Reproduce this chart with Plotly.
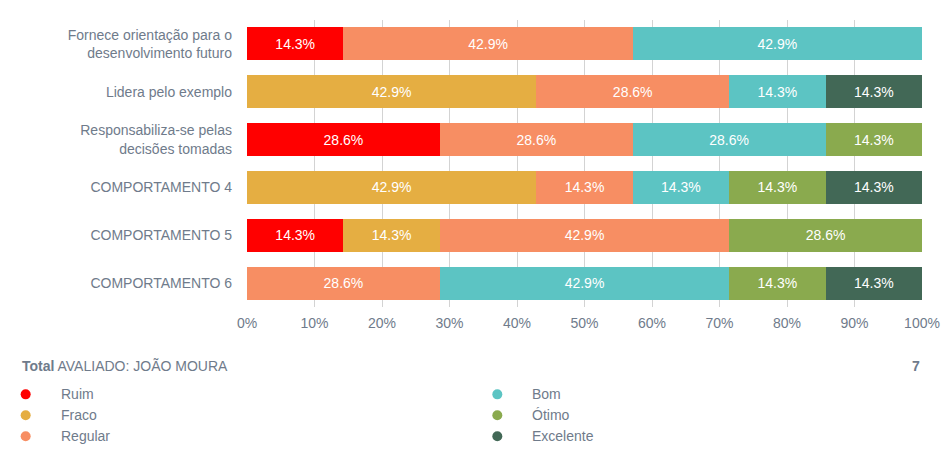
import plotly.graph_objects as go

categories = [
    "Fornece orientação para o<br>desenvolvimento futuro",
    "Lidera pelo exemplo",
    "Responsabiliza-se pelas<br>decisões tomadas",
    "COMPORTAMENTO 4",
    "COMPORTAMENTO 5",
    "COMPORTAMENTO 6",
]
total = 7
ruim = [1, 0, 2, 0, 1, 0]
fraco = [0, 3, 0, 3, 1, 0]
regular = [3, 2, 2, 1, 3, 2]
bom = [3, 1, 2, 1, 0, 3]
otimo = [0, 0, 1, 1, 2, 1]
excelente = [0, 1, 0, 1, 0, 1]

series_names = ["Ruim", "Fraco", "Regular", "Bom", "Ótimo", "Excelente"]
series_counts = [ruim, fraco, regular, bom, otimo, excelente]
colors = ["#FF0000", "#E5AE42", "#F78E63", "#5CC4C3", "#8AAA4E", "#426856"]

W, H = 944, 465
L, R, T, B = 246.5, 22, 20, 157.5
PW, PH = W - L - R, H - T - B

fig = go.Figure()
for name, counts, col in zip(series_names, series_counts, colors):
    pct = [c / total * 100 for c in counts]
    fig.add_trace(go.Bar(
        y=categories, x=pct, name=name, orientation="h",
        marker=dict(color=col, line=dict(width=0)),
        text=[f"{p:.1f}%" if p > 0 else "" for p in pct],
        textposition="inside", insidetextanchor="middle",
        textfont=dict(color="white", size=14, family="Liberation Sans, Arial"),
        showlegend=False, hoverinfo="skip",
    ))

def px2x(px):
    return (px - L) / PW

def py2y(py):
    return (H - B - py) / PH

label_color = "#6F7B8B"
shapes = []
annotations = []
legend_rows = [395, 416, 437]
for i, (name, col) in enumerate(zip(series_names, colors)):
    colx = 25 if i < 3 else 497
    tx = 58 if i < 3 else 530
    yy = legend_rows[i % 3]
    shapes.append(dict(
        type="circle", xref="paper", yref="paper",
        xsizemode="pixel", ysizemode="pixel",
        xanchor=px2x(colx), yanchor=py2y(yy),
        x0=-5, x1=5, y0=-5, y1=5,
        fillcolor=col, line=dict(width=0),
    ))
    annotations.append(dict(
        text=name, xref="paper", yref="paper", x=px2x(tx), y=py2y(yy),
        xanchor="left", yanchor="middle", showarrow=False,
        font=dict(size=14, color=label_color, family="Liberation Sans, Arial"),
    ))

annotations.append(dict(
    text="<b>Total</b> AVALIADO: JOÃO MOURA", xref="paper", yref="paper",
    x=px2x(19), y=py2y(367), xanchor="left", yanchor="middle", showarrow=False,
    font=dict(size=14, color=label_color, family="Liberation Sans, Arial"),
))
annotations.append(dict(
    text="<b>" + str(total) + "</b>", xref="paper", yref="paper",
    x=px2x(922), y=py2y(367), xanchor="right", yanchor="middle", showarrow=False,
    font=dict(size=14, color="#6F7B8B", family="Liberation Sans, Arial"),
))

fig.update_layout(
    width=W, height=H, barmode="stack", bargap=0.31,
    margin=dict(l=L, r=R, t=T, b=B, pad=0, autoexpand=False),
    plot_bgcolor="white", paper_bgcolor="white",
    font=dict(family="Liberation Sans, Arial", size=14, color=label_color),
    shapes=shapes, annotations=annotations,
    xaxis=dict(
        range=[0, 100], tickvals=list(range(0, 101, 10)),
        ticktext=[f"{v}%" for v in range(0, 101, 10)],
        showgrid=True, gridcolor="#D3D3D3", gridwidth=1,
        zeroline=False, showline=False, ticks="",
        tickfont=dict(size=14, color=label_color), ticklabelstandoff=6,
        fixedrange=True, automargin=False,
    ),
    yaxis=dict(
        autorange="reversed", showgrid=False, zeroline=False,
        showline=False, ticks="", ticklabelstandoff=14,
        tickfont=dict(size=14, color=label_color),
        fixedrange=True, automargin=False,
    ),
)

fig.write_html("out.html")
